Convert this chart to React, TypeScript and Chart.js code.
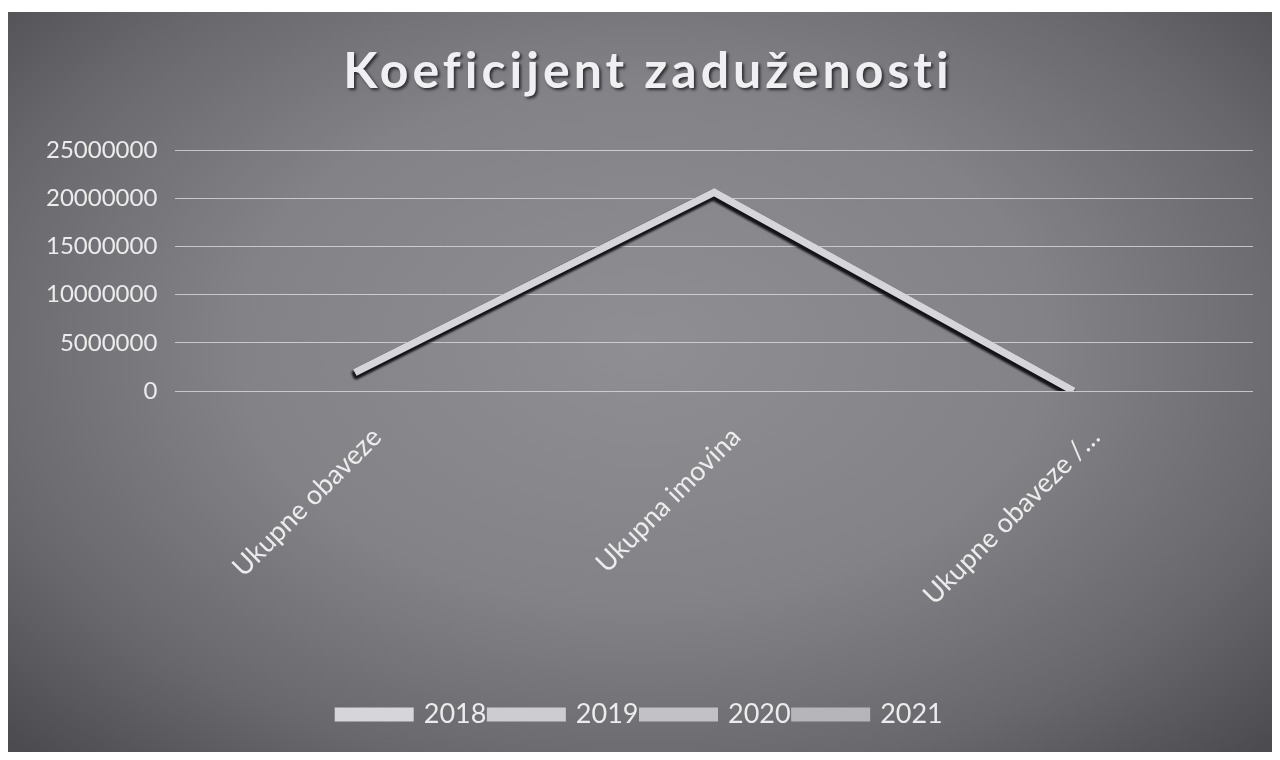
import React, { useEffect, useRef } from "react";
import { Chart, registerables } from "chart.js";

Chart.register(...registerables);

const titleText = "Koeficijent zaduženosti";
const categories = ["Ukupne obaveze", "Ukupna imovina", "Ukupne obaveze /…"];
const years = ["2018", "2019", "2020", "2021"];
const values2018 = [1900000, 20600000, 0.09];
const values2019 = [1900000, 20600000, 0.09];
const values2020 = [1900000, 20600000, 0.09];
const values2021 = [1900000, 20600000, 0.09];
const yTicks = [0, 5000000, 10000000, 15000000, 20000000, 25000000];
const seriesColors = ["#d6d6da", "#cdcdd1", "#c2c2c6", "#b6b6ba"];

const FONT = "Lato, 'DejaVu Sans', sans-serif";

const shadowPlugin = {
  id: "lineShadow",
  beforeDatasetDraw(chart: any) {
    const ctx = chart.ctx;
    ctx.save();
    ctx.shadowColor = "rgba(20,20,25,0.8)";
    ctx.shadowBlur = 3;
    ctx.shadowOffsetX = -1;
    ctx.shadowOffsetY = 3;
  },
  afterDatasetDraw(chart: any) {
    chart.ctx.restore();
  },
};

const titlePlugin = {
  id: "spacedTitle",
  afterDraw(chart: any) {
    const ctx = chart.ctx;
    ctx.save();
    ctx.font = `bold 50px ${FONT}`;
    (ctx as any).letterSpacing = "4px";
    ctx.textAlign = "center";
    ctx.textBaseline = "middle";
    ctx.shadowColor = "rgba(30,30,35,0.85)";
    ctx.shadowBlur = 3;
    ctx.shadowOffsetX = 2;
    ctx.shadowOffsetY = 2;
    ctx.fillStyle = "#f0f0f2";
    ctx.fillText(titleText, 640, 60);
    ctx.restore();
  },
};

export default function App() {
  const ref = useRef<HTMLCanvasElement | null>(null);

  useEffect(() => {
    if (!ref.current) return;
    const all = [values2018, values2019, values2020, values2021];
    const chart = new Chart(ref.current, {
      type: "line",
      data: {
        labels: categories,
        datasets: years.map((y, i) => ({
          label: y,
          data: all[i],
          borderColor: seriesColors[i],
          backgroundColor: seriesColors[i],
          borderWidth: 7,
          pointRadius: 0,
          tension: 0,
          fill: false,
        })),
      },
      options: {
        animation: false,
        responsive: false,
        maintainAspectRatio: false,
        layout: { padding: { left: 20, right: 22, top: 138, bottom: 14 } },
        plugins: {
          title: { display: false },
          legend: {
            position: "bottom",
            labels: {
              color: "#ececec",
              font: { family: FONT, size: 27 },
              boxWidth: 72,
              boxHeight: 7,
              padding: 4,
            },
          },
          tooltip: { enabled: false },
        },
        scales: {
          x: {
            offset: true,
            grid: { display: false },
            border: { display: false },
            afterFit: (axis: any) => {
              axis.height = 306;
            },
            ticks: {
              color: "#ececec",
              font: { family: FONT, size: 27 },
              minRotation: 45,
              maxRotation: 45,
              autoSkip: false,
              padding: 22,
              labelOffset: 22,
            },
          },
          y: {
            min: 0,
            max: 25000000,
            afterBuildTicks: (axis: any) => {
              axis.ticks = yTicks.map((v) => ({ value: v }));
            },
            grid: { color: "rgba(225,225,230,0.75)", lineWidth: 1, drawTicks: false },
            border: { display: false },
            ticks: {
              color: "#ececec",
              font: { family: FONT, size: 24 },
              padding: 18,
              callback: (v: any) => String(v),
            },
          },
        },
      },
      plugins: [shadowPlugin, titlePlugin],
    });
    return () => chart.destroy();
  }, []);

  return (
    <div
      style={{
        marginTop: 4,
        width: 1267,
        height: 740,
        background:
          "radial-gradient(ellipse at 50% 45%, #8f8f93 0%, #838387 45%, #69696d 75%, #4a4a4e 100%)",
      }}
    >
      <canvas ref={ref} width={1267} height={740} />
    </div>
  );
}
